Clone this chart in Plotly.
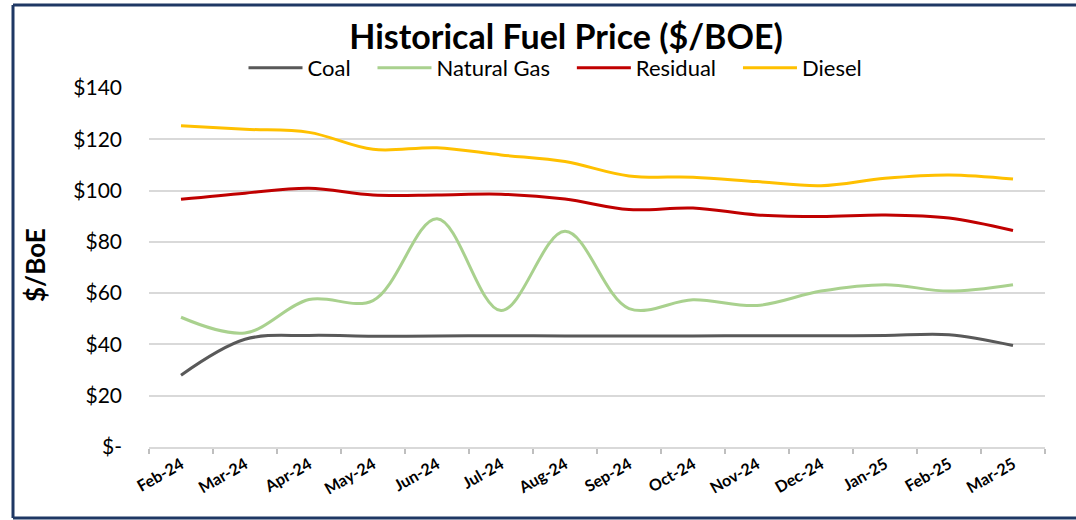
import plotly.graph_objects as go

months = ["Feb-24", "Mar-24", "Apr-24", "May-24", "Jun-24", "Jul-24", "Aug-24",
          "Sep-24", "Oct-24", "Nov-24", "Dec-24", "Jan-25", "Feb-25", "Mar-25"]
coal = [28.0, 42.0, 43.5, 43.2, 43.3, 43.4, 43.3, 43.3, 43.3, 43.4, 43.4, 43.5, 43.8, 39.6]
natural_gas = [50.6, 44.5, 57.5, 57.1, 89.0, 53.2, 84.1, 54.0, 57.4, 55.2, 60.8, 63.3, 60.8, 63.3]
residual = [96.6, 99.0, 100.9, 98.3, 98.3, 98.6, 96.7, 92.6, 93.2, 90.5, 89.9, 90.5, 89.3, 84.4]
diesel = [125.3, 123.9, 122.7, 116.1, 116.7, 113.9, 111.3, 105.7, 105.2, 103.5, 101.9, 104.8, 106.1, 104.5]

y_tickvals = [0, 20, 40, 60, 80, 100, 120, 140]
y_ticktext = ["$-", "$20", "$40", "$60", "$80", "$100", "$120", "$140"]

FONT = "Lato, Open Sans, sans-serif"
PAD = "\u00a0\u00a0\u00a0"  # extra spacing between legend entries

series = [
    ("Coal", coal, "#595959"),
    ("Natural Gas", natural_gas, "#A9D18E"),
    ("Residual", residual, "#C00000"),
    ("Diesel", diesel, "#FFC000"),
]

fig = go.Figure()
for name, vals, color in series:
    fig.add_trace(go.Scatter(
        x=months, y=vals, name=name + PAD, mode="lines",
        line=dict(color=color, width=3, shape="spline", smoothing=1.0),
        hovertemplate=name + ": %{y:$.1f}<extra></extra>",
    ))

W, H = 1076, 520
L, R, T, B = 149, 31, 88, 73
PW, PH = W - L - R, H - T - B

fig.update_layout(
    width=W, height=H,
    margin=dict(l=L, r=R, t=T, b=B),
    paper_bgcolor="white", plot_bgcolor="white",
    font=dict(family=FONT, color="black"),
    title=dict(text="<b>Historical Fuel Price ($/BOE)</b>", x=566 / W, xref="container",
               xanchor="center", y=1 - 37 / H, yanchor="middle", yref="container",
               font=dict(size=34, family=FONT, color="black")),
    legend=dict(orientation="h", x=(564 - L) / PW, xanchor="center",
                y=1 + (T - 68) / PH, yanchor="middle",
                font=dict(size=22, family=FONT), itemwidth=54,
                bgcolor="rgba(0,0,0,0)", traceorder="normal"),
    showlegend=True,
)

fig.update_xaxes(
    type="category", range=[-0.5, 13.5],
    showline=True, linecolor="#D9D9D9", linewidth=2,
    ticks="outside", tickson="boundaries", ticklen=5, tickcolor="#BFBFBF", tickwidth=1.5,
    tickangle=-30, tickfont=dict(size=16, family=FONT, color="black", weight="bold"),
    showgrid=False,
)
fig.update_yaxes(
    range=[0, 140], tickvals=y_tickvals, ticktext=y_ticktext,
    showgrid=True, gridcolor="#D9D9D9", gridwidth=2,
    zeroline=False, showline=False, ticks="",
    tickfont=dict(size=21, family=FONT, color="black"),
    ticklabelstandoff=26,
)

fig.add_annotation(
    text="<b>$/BoE</b>", textangle=-90, xref="paper", yref="paper",
    x=(35 - L) / PW, y=(H - B - 265) / PH, xanchor="center", yanchor="middle",
    showarrow=False, font=dict(size=26, family=FONT, color="black"),
)

# outer chart border (cropped on the right side in the reference)
border = "#1F3864"
xl = (13 - L) / PW
xr = (W + 5 - L) / PW
yt = 1 + (T - 5) / PH
yb = -(B - 2) / PH
fig.add_shape(type="line", xref="paper", yref="paper", x0=xl, x1=xr, y0=yt, y1=yt,
              line=dict(color=border, width=3))
fig.add_shape(type="line", xref="paper", yref="paper", x0=xl, x1=xl, y0=yb, y1=yt,
              line=dict(color=border, width=3))
fig.add_shape(type="line", xref="paper", yref="paper", x0=xl, x1=xr, y0=yb, y1=yb,
              line=dict(color=border, width=3))

fig.write_html("out.html", config={"displayModeBar": False},
               post_script="document.body.style.margin='0';document.body.style.overflow='hidden';")
